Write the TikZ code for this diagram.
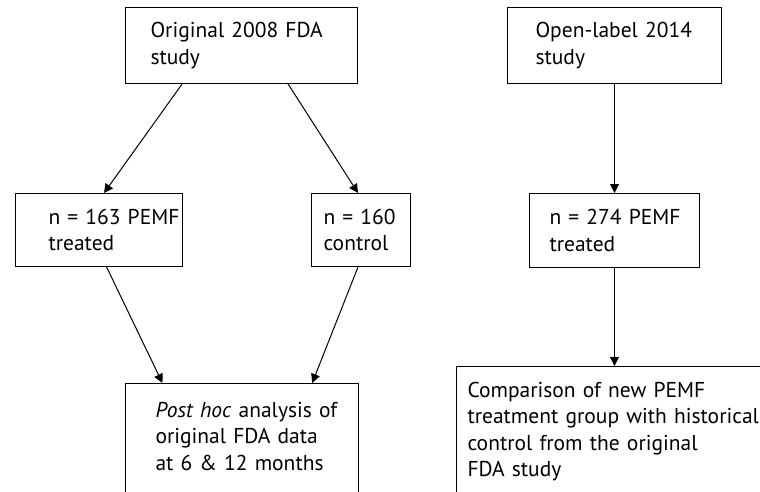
\documentclass[tikz,border=0pt]{standalone}
\usepackage{fontspec}
\setmainfont{PT Sans}
\usetikzlibrary{positioning, arrows.meta, calc}

\begin{document}
\begin{tikzpicture}[x=1pt, y=-1pt,
    box/.style={draw, rectangle, line width=1pt, anchor=north west,
                align=left, font=\fontsize{21.5}{26.5}\selectfont},
    arr/.style={line width=1pt, -{Triangle[length=9pt, width=9pt]}}]
  \clip (0,0) rectangle (760,492);
  % 2008 study (left column)
  \node[box, inner xsep=25pt, text width=182pt, minimum height=76pt] (orig) at (125,7)
        {\mbox{Original 2008 FDA}\\study};
  \node[box, inner xsep=33pt, text width=101pt, minimum height=73pt] (trtA) at (15,193)
        {\mbox{n = 163 PEMF}\\treated};
  \node[box, inner xsep=12pt, text width=75pt, minimum height=73pt] (ctrl) at (311,193)
        {\mbox{n = 160}\\control};
  \node[box, inner xsep=30pt, inner ysep=18.5pt, text width=173pt] (posthoc) at (125,383)
        {\mbox{\textit{Post hoc} analysis of}\\\mbox{original FDA data}\\\mbox{at 6 \& 12 months}\\\mbox{}\\\mbox{}};
  % 2014 study (right column)
  \node[box, inner xsep=28pt, text width=158pt, minimum height=76pt] (open) at (507,7)
        {\mbox{Open-label 2014}\\study};
  \node[box, inner xsep=20pt, text width=130pt, minimum height=74pt] (trtB) at (529,193)
        {\mbox{n = 274 PEMF}\\treated};
  \node[box, inner xsep=11pt, inner ysep=15.5pt, text width=378pt] (compar) at (456,366)
        {\mbox{Comparison of new PEMF}\\\mbox{treatment group with historical}\\\mbox{control from the original}\\\mbox{FDA study}\\\mbox{}\\\mbox{}};
  % connectors
  \draw[arr] ($(orig.south west)!0.245!(orig.south east)$) -- ($(trtA.north west)!0.53!(trtA.north east)$);
  \draw[arr] ($(orig.south west)!0.70!(orig.south east)$) -- ($(ctrl.north west)!0.47!(ctrl.north east)$);
  \draw[arr] ($(trtA.south west)!0.545!(trtA.south east)$) -- ($(posthoc.north west)!0.16!(posthoc.north east)$);
  \draw[arr] ($(ctrl.south west)!0.47!(ctrl.south east)$) -- ($(posthoc.north west)!0.80!(posthoc.north east)$);
  \draw[arr] (open.south -| trtB.north) -- (trtB.north);
  \draw[arr] (trtB.south) -- (trtB.south |- compar.north);
\end{tikzpicture}
\end{document}
